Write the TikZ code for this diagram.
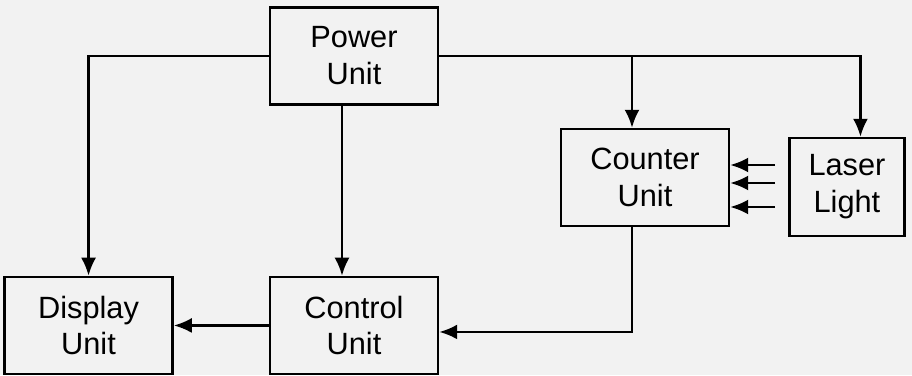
\documentclass[tikz,border=0pt]{standalone}
\usepackage{fontspec}
\setmainfont{Liberation Sans}
\usepackage{tikz}
\usetikzlibrary{arrows.meta,positioning,calc}
\definecolor{paper}{gray}{0.95}

\begin{document}
\begin{tikzpicture}[
  font=\fontsize{17.5}{21}\selectfont,
  unit/.style={draw,line width=1.4pt,fill=paper,minimum width=3.36cm,minimum height=1.94cm,align=center},
  flow/.style={line width=1.4pt,-{Latex[length=3.6mm,width=3mm]}}
]
  \fill[paper] (0,0) rectangle (18.24,7.5);
  \useasboundingbox (0,0) rectangle (18.24,7.5);
  \node[unit] (pw) at (7.08,6.38) {Power\\Unit};
  \node[unit,below=3.4cm of pw] (ctl) {Control\\Unit};
  \node[unit,left=1.9cm of ctl] (dsp) {Display\\Unit};
  \node[unit] (cnt) at (12.9,3.95) {Counter\\Unit};
  \node[unit,minimum width=2.3cm,minimum height=1.96cm,right=1.16cm of cnt,yshift=-0.19cm] (lsr) {Laser\\Light};
  % power lines
  \draw[flow] (pw.west) -| (dsp.north);
  \coordinate (pw0) at ($(pw.south)+(-0.24,0)$);
  \draw[flow] (pw0) -- (pw0 |- ctl.north);
  \coordinate (lsr0) at ($(lsr.north)+(0.27,0)$);
  \draw[flow] (pw.east) -| (lsr0);
  \coordinate (cnt0) at ($(cnt.north)+(-0.26,0)$);
  \draw[flow] (cnt0 |- pw.east) -- (cnt0);
  % counter to control to display
  \coordinate (cnt1) at ($(cnt.south)+(-0.26,0)$);
  \coordinate (ctl1) at ($(ctl.east)+(0,-0.13)$);
  \draw[flow] (cnt1) |- (ctl1);
  \draw[flow] (ctl.west) -- (dsp.east);
  % laser beams
  \foreach \dy [count=\i] in {0.25,-0.11,-0.59} {
    \coordinate (b\i) at ($(lsr.west |- cnt.east)+(-0.26,\dy)$);
    \draw[flow] (b\i) -- (b\i -| cnt.east);
  }
\end{tikzpicture}
\end{document}
